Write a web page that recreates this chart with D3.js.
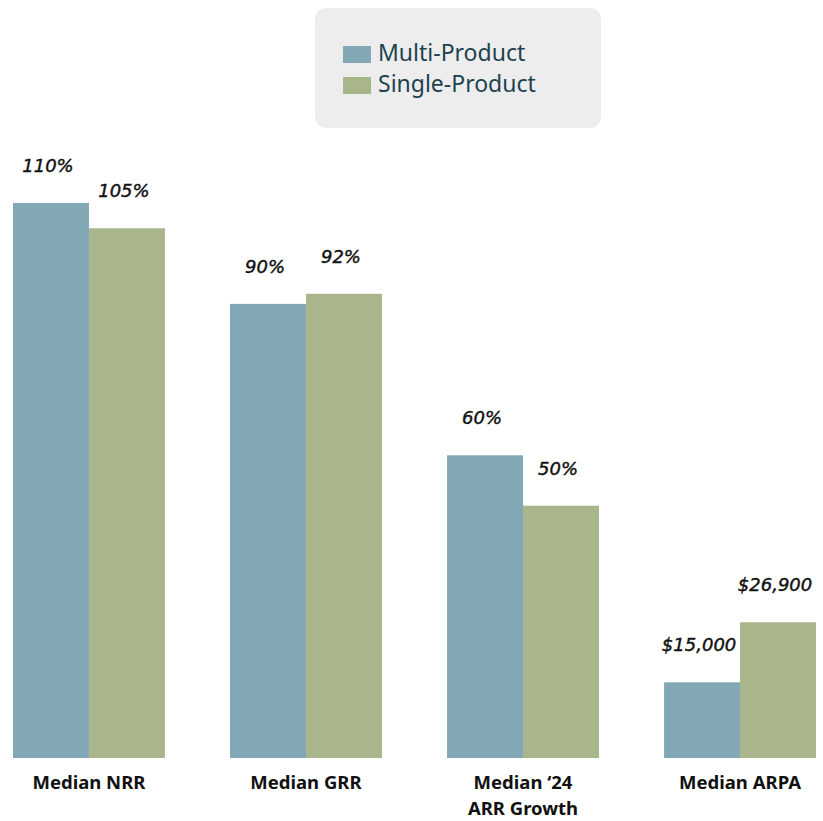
<!DOCTYPE html>
<html>
<head>
<meta charset="utf-8">
<script src="https://cdn.jsdelivr.net/npm/d3@7/dist/d3.min.js"></script>
<style>
  html, body { margin: 0; padding: 0; background: #ffffff; }
  svg { display: block; }
</style>
</head>
<body>
<script>
// Metrics compared across the two customer segments
const categories = [["Median NRR"], ["Median GRR"], ["Median \u201824", "ARR Growth"], ["Median ARPA"]];
const seriesNames = ["Multi-Product", "Single-Product"];
const multiProduct = [110, 90, 60, 15000];
const singleProduct = [105, 92, 50, 26900];
// Unit of each metric: percentages, or dollars for ARPA
const units = ["pct", "pct", "pct", "usd"];

const colors = ["#82a8b6", "#a9b58a"];
const W = 823, H = 821;

const svg = d3.select("body").append("svg")
  .attr("width", W).attr("height", H);

const x0 = d3.scaleBand()
  .domain(d3.range(categories.length))
  .range([13, 816])
  .paddingInner(0.3)
  .paddingOuter(0);

const x1 = d3.scaleBand()
  .domain(d3.range(seriesNames.length))
  .range([0, x0.bandwidth()]);

const baseY = 758, topY = 203;
// Percentage metrics and the dollar metric share the plotting height
const yPct = d3.scaleLinear().domain([0, 110]).range([baseY, topY]);
const yUsd = d3.scaleLinear().domain([0, 110000]).range([baseY, topY]);
const yFor = i => units[i] === "usd" ? yUsd : yPct;

const fmtPct = v => v + "%";
const fmtUsd = v => "$" + d3.format(",")(v);
const fmt = (i, v) => units[i] === "usd" ? fmtUsd(v) : fmtPct(v);

const rows = categories.map((c, i) => ({
  i, values: [multiProduct[i], singleProduct[i]]
}));

const groups = svg.selectAll("g.group").data(rows).join("g")
  .attr("class", "group")
  .attr("transform", d => `translate(${x0(d.i)},0)`);

groups.selectAll("rect").data(d => d.values.map((v, s) => ({ i: d.i, s, v })))
  .join("rect")
  .attr("x", d => x1(d.s))
  .attr("y", d => yFor(d.i)(d.v))
  .attr("width", x1.bandwidth())
  .attr("height", d => baseY - yFor(d.i)(d.v))
  .attr("fill", d => colors[d.s]);

groups.selectAll("text.value").data(d => d.values.map((v, s) => ({ i: d.i, s, v })))
  .join("text")
  .attr("class", "value")
  .attr("x", d => x1(d.s) + x1.bandwidth() / 2 - 3)
  .attr("y", d => yFor(d.i)(d.v) - 31)
  .attr("text-anchor", "middle")
  .attr("font-family", "'DejaVu Sans', sans-serif")
  .attr("font-style", "italic")
  .attr("font-size", 18)
  .attr("stroke", "#111111")
  .attr("stroke-width", 0.4)
  .attr("fill", "#111111")
  .text(d => fmt(d.i, d.v));

// Category labels under each group, one text per line
const catLines = categories.flatMap((lines, i) => lines.map((t, j) => ({ i, j, t })));
svg.selectAll("text.cat").data(catLines).join("text")
  .attr("class", "cat")
  .attr("x", d => x0(d.i) + x0.bandwidth() / 2)
  .attr("y", d => 789 + d.j * 26)
  .attr("text-anchor", "middle")
  .attr("font-family", "'Noto Sans', 'Open Sans', sans-serif")
  .attr("font-weight", "bold")
  .attr("font-size", 18.5)
  .attr("fill", "#111111")
  .text(d => d.t);

// Legend
const legend = svg.append("g");
legend.append("rect")
  .attr("x", 315).attr("y", 8)
  .attr("width", 286).attr("height", 120)
  .attr("rx", 11)
  .attr("fill", "#ededed");
const items = legend.selectAll("g.item").data(seriesNames).join("g")
  .attr("class", "item")
  .attr("transform", (d, i) => `translate(343,${46 + i * 31})`);
items.append("rect")
  .attr("width", 28).attr("height", 17)
  .attr("fill", (d, i) => colors[i]);
items.append("text")
  .attr("x", 35).attr("y", 15)
  .attr("font-family", "'Noto Sans', 'Open Sans', sans-serif")
  .attr("font-size", 23)
  .attr("fill", "#1d4250")
  .text(d => d);
</script>
</body>
</html>
